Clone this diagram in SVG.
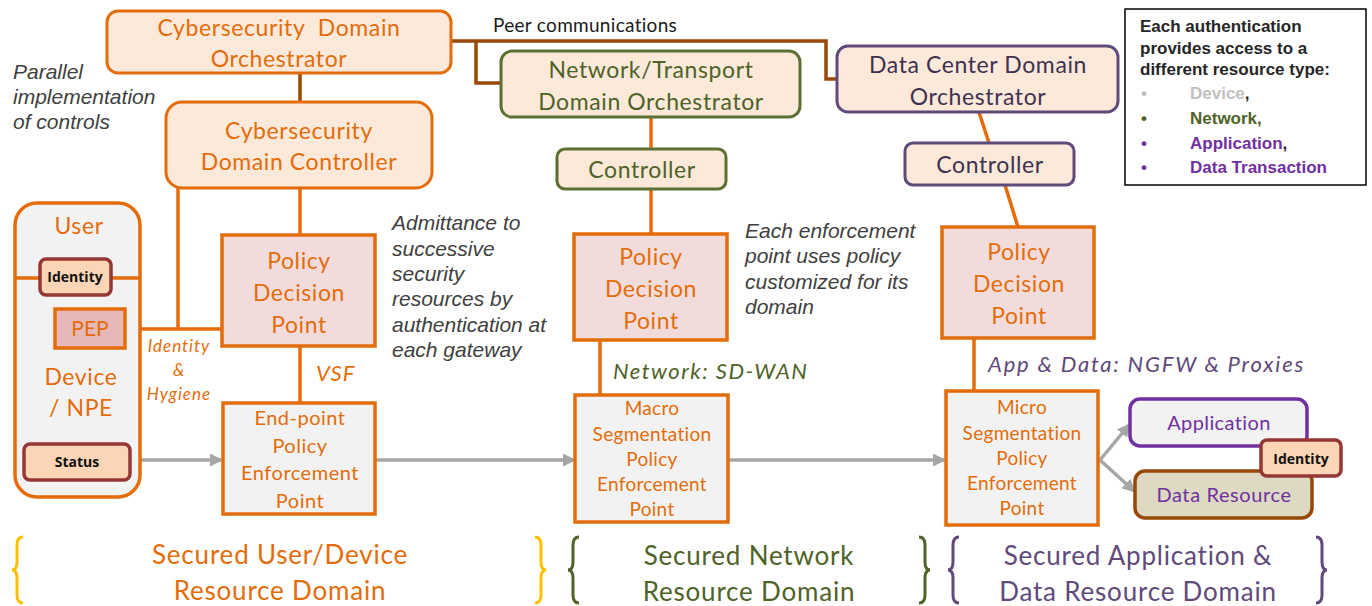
<svg xmlns="http://www.w3.org/2000/svg" width="1372" height="606" viewBox="0 0 1372 606">
<defs>
<marker id="ah" markerWidth="13" markerHeight="13" refX="11" refY="6.5" orient="auto" markerUnits="userSpaceOnUse" viewBox="0 0 13 13">
<path d="M0,0 L13,6.5 L0,13 Z" fill="#a6a6a6"/>
</marker>
<style>
.c{font-family:Lato,"Open Sans","Liberation Sans",sans-serif;text-anchor:middle}
.m{font-size:23px;letter-spacing:0.6px}
.s{font-size:19px;letter-spacing:0.3px}
.or{fill:#e46c0a}
.gr{fill:#4f6228}
.pu{fill:#403151}
.peach{fill:#fde9d9;stroke-width:3}
.pdp{fill:#f2dcdb;stroke:#e46c0a;stroke-width:3.5}
.pep{fill:#f2f2f2;stroke:#e46c0a;stroke-width:3.5}
.it{font-family:"Liberation Sans",Arial,sans-serif;font-style:italic;font-size:21px;fill:#404040}
.li{font-family:Lato,"Open Sans",sans-serif;font-style:italic}
.tag{fill:#fbd5b5;stroke:#953735;stroke-width:3.5}
.tagt{font-family:"Open Sans","Liberation Sans",sans-serif;font-weight:bold;font-size:14px;fill:#111;text-anchor:middle}
.lg{font-family:"Liberation Sans",Arial,sans-serif;font-weight:bold;font-size:17px}
.conn{fill:none;stroke-width:3.5}
.gray{stroke:#a6a6a6;stroke-width:3.5;fill:none}
.brace{fill:none;stroke-width:3}
.dom{font-size:26px;letter-spacing:0.8px}
</style>
</defs>
<rect width="1372" height="606" fill="#ffffff"/>

<!-- connectors -->
<g id="connectors">
<path class="conn" stroke="#984807" d="M300,73 L300,102"/>
<path class="conn" stroke="#984807" d="M451,41 L826,41 L826,79 L837,79"/>
<path class="conn" stroke="#984807" d="M476,41 L476,83 L501,83"/>
<path class="conn" stroke="#e46c0a" d="M651,117 L651,149"/>
<path class="conn" stroke="#e46c0a" d="M651,189 L651,234"/>
<path class="conn" stroke="#e46c0a" d="M979,112 L989,143"/>
<path class="conn" stroke="#e46c0a" d="M1005,185 L1018,227"/>
<path class="conn" stroke="#e46c0a" d="M300,188 L300,235"/>
<path class="conn" stroke="#e46c0a" d="M178,188 L178,329"/>
<path class="conn" stroke="#e46c0a" d="M125,329 L222,329"/>
<path class="conn" stroke="#e46c0a" d="M300,347 L300,403"/>
<path class="conn" stroke="#e46c0a" d="M600,340 L600,395"/>
<path class="conn" stroke="#e46c0a" d="M974,338 L974,391"/>
<path class="gray" d="M141,460 L221,460" marker-end="url(#ah)"/>
<path class="gray" d="M376,460 L574,460" marker-end="url(#ah)"/>
<path class="gray" d="M729,460 L944,460" marker-end="url(#ah)"/>
<path class="gray" d="M1100,460 L1129,425" marker-end="url(#ah)"/>
<path class="gray" d="M1100,460 L1134,491" marker-end="url(#ah)"/>
</g>

<!-- Cybersecurity Domain Orchestrator -->
<g id="cyber-orch">
<rect class="peach" x="107" y="11" width="344" height="62" rx="11" stroke="#e46c0a"/>
<text class="c m or" x="279" y="36" xml:space="preserve">Cybersecurity  Domain</text>
<text class="c m or" x="279" y="67">Orchestrator</text>
</g>

<!-- Cybersecurity Domain Controller -->
<g id="cyber-ctrl">
<rect class="peach" x="166" y="102" width="266" height="86" rx="16" stroke="#e46c0a"/>
<text class="c m or" x="299" y="139">Cybersecurity</text>
<text class="c m or" x="299" y="170">Domain Controller</text>
</g>

<!-- Peer communications label -->
<text x="493" y="32" font-family="Lato,'Open Sans',sans-serif" font-size="19" letter-spacing="0.3" fill="#1a1a1a">Peer communications</text>

<!-- Network orchestrator -->
<g id="net-orch">
<rect class="peach" x="501" y="51" width="299" height="66" rx="11" stroke="#5b7032"/>
<text class="c m gr" x="651" y="78">Network/Transport</text>
<text class="c m gr" x="651" y="110">Domain Orchestrator</text>
</g>

<!-- Network controller -->
<g id="net-ctrl">
<rect class="peach" x="557" y="149" width="169" height="40" rx="8" stroke="#5b7032"/>
<text class="c m gr" x="642" y="178">Controller</text>
</g>

<!-- Data center orchestrator -->
<g id="dc-orch">
<rect class="peach" x="837" y="46" width="281" height="66" rx="11" stroke="#604a7b"/>
<text class="c m pu" x="978" y="73">Data Center Domain</text>
<text class="c m pu" x="978" y="105">Orchestrator</text>
</g>

<!-- Data center controller -->
<g id="dc-ctrl">
<rect class="peach" x="905" y="143" width="169" height="42" rx="8" stroke="#604a7b"/>
<text class="c m pu" x="990" y="173">Controller</text>
</g>

<!-- Legend -->
<g id="legend">
<rect x="1125" y="9" width="241" height="176" fill="#ffffff" stroke="#000" stroke-width="1.5"/>
<text class="lg" x="1140" y="32" fill="#262626">Each authentication</text>
<text class="lg" x="1140" y="54" fill="#262626">provides access to a</text>
<text class="lg" x="1140" y="75" fill="#262626">different resource type:</text>
<text class="lg" x="1141" y="99" font-size="11" fill="#bfbfbf">•</text>
<text class="lg" x="1190" y="99"><tspan fill="#bfbfbf">Device</tspan><tspan fill="#262626">,</tspan></text>
<text class="lg" x="1141" y="124" font-size="11" fill="#4f6228">•</text>
<text class="lg" x="1190" y="124" fill="#4f6228">Network,</text>
<text class="lg" x="1141" y="149" font-size="11" fill="#7030a0">•</text>
<text class="lg" x="1190" y="149"><tspan fill="#7030a0">Application</tspan><tspan fill="#262626">,</tspan></text>
<text class="lg" x="1141" y="173" font-size="11" fill="#7030a0">•</text>
<text class="lg" x="1190" y="173" fill="#7030a0">Data Transaction</text>
</g>

<!-- Annotations -->
<text class="it"><tspan x="13" y="79">Parallel</tspan><tspan x="13" y="104">implementation</tspan><tspan x="13" y="129">of controls</tspan></text>
<text class="it"><tspan x="392" y="230">Admittance to</tspan><tspan x="392" y="256">successive</tspan><tspan x="392" y="281">security</tspan><tspan x="392" y="306">resources by</tspan><tspan x="392" y="332">authentication at</tspan><tspan x="392" y="357">each gateway</tspan></text>
<text class="it"><tspan x="745" y="238">Each enforcement</tspan><tspan x="745" y="263">point uses policy</tspan><tspan x="745" y="289">customized for its</tspan><tspan x="745" y="314">domain</tspan></text>

<!-- User / Device -->
<g id="user-device">
<rect x="15" y="203" width="125" height="294" rx="22" fill="#f2f2f2" stroke="#e46c0a" stroke-width="3.5"/>
<line x1="15" y1="278" x2="140" y2="278" stroke="#e46c0a" stroke-width="3.5"/>
<text class="c m or" x="79" y="234">User</text>
<text class="c m or" x="81" y="385">Device</text>
<text class="c m or" x="81" y="416">/ NPE</text>
</g>
<g id="identity-user">
<rect class="tag" x="40" y="259" width="71" height="36" rx="6"/>
<text class="tagt" x="75" y="282">Identity</text>
</g>
<g id="pep">
<rect x="55" y="309" width="70" height="39" fill="#e6b9b8" stroke="#e46c0a" stroke-width="3.5"/>
<text class="c or" font-size="21" x="90" y="336">PEP</text>
</g>
<g id="status">
<rect class="tag" x="24" y="444" width="106" height="36" rx="6"/>
<text class="tagt" x="77" y="467">Status</text>
</g>
<text class="li" font-size="17" letter-spacing="1" fill="#e46c0a" text-anchor="middle"><tspan x="179" y="352">Identity</tspan><tspan x="179" y="376">&amp;</tspan><tspan x="179" y="400">Hygiene</tspan></text>

<!-- PDP 1 -->
<g id="pdp-user">
<rect class="pdp" x="222" y="235" width="153" height="111"/>
<text class="c m or" x="299" y="269">Policy</text>
<text class="c m or" x="299" y="301">Decision</text>
<text class="c m or" x="299" y="333">Point</text>
</g>
<text class="li" x="316" y="381" font-size="22" letter-spacing="1" fill="#e46c0a">VSF</text>

<!-- End-point PEP -->
<g id="pep-endpoint">
<rect class="pep" x="223" y="403" width="152" height="111"/>
<text class="c or" font-size="20" letter-spacing="0.5" x="300" y="425">End-point</text>
<text class="c or" font-size="20" letter-spacing="0.5" x="300" y="453">Policy</text>
<text class="c or" font-size="20" letter-spacing="0.5" x="300" y="480">Enforcement</text>
<text class="c or" font-size="20" letter-spacing="0.5" x="300" y="508">Point</text>
</g>

<!-- PDP network -->
<g id="pdp-net">
<rect class="pdp" x="574" y="234" width="153" height="106"/>
<text class="c m or" x="651" y="265">Policy</text>
<text class="c m or" x="651" y="297">Decision</text>
<text class="c m or" x="651" y="329">Point</text>
</g>
<text class="li" x="613" y="379" font-size="22" letter-spacing="1.5" fill="#4f6228">Network: SD-WAN</text>

<!-- Macro PEP -->
<g id="pep-macro">
<rect class="pep" x="575" y="395" width="153" height="127"/>
<text class="c s or" x="652" y="415">Macro</text>
<text class="c s or" x="652" y="441">Segmentation</text>
<text class="c s or" x="652" y="466">Policy</text>
<text class="c s or" x="652" y="491">Enforcement</text>
<text class="c s or" x="652" y="516">Point</text>
</g>

<!-- PDP data -->
<g id="pdp-data">
<rect class="pdp" x="942" y="227" width="152" height="111"/>
<text class="c m or" x="1019" y="260">Policy</text>
<text class="c m or" x="1019" y="292">Decision</text>
<text class="c m or" x="1019" y="324">Point</text>
</g>
<text class="li" x="988" y="372" font-size="22" letter-spacing="1.8" fill="#5f497a">App &amp; Data: NGFW &amp; Proxies</text>

<!-- Micro PEP -->
<g id="pep-micro">
<rect class="pep" x="946" y="391" width="152" height="134"/>
<text class="c s or" x="1022" y="414">Micro</text>
<text class="c s or" x="1022" y="440">Segmentation</text>
<text class="c s or" x="1022" y="465">Policy</text>
<text class="c s or" x="1022" y="490">Enforcement</text>
<text class="c s or" x="1022" y="515">Point</text>
</g>

<!-- Application -->
<g id="application">
<rect x="1130" y="399" width="177" height="47" rx="10" fill="#f2f2f2" stroke="#7030a0" stroke-width="3.5"/>
<text class="c" font-size="20" letter-spacing="0.4" fill="#7030a0" x="1219" y="430">Application</text>
</g>

<!-- Data Resource -->
<g id="data-resource">
<rect x="1135" y="471" width="177" height="47" rx="10" fill="#ddd9c3" stroke="#974806" stroke-width="3.5"/>
<text class="c" font-size="20" letter-spacing="0.6" fill="#7030a0" x="1224" y="502">Data Resource</text>
</g>

<!-- Identity right -->
<g id="identity-data">
<rect class="tag" x="1261" y="440" width="80" height="36" rx="6"/>
<text class="tagt" x="1301" y="464">Identity</text>
</g>

<!-- Domain braces and labels -->
<g id="domain-user">
<path class="brace" stroke="#ffc000" d="M23,537 Q17,537 17,545 L17,562 Q17,570 12,570 Q17,570 17,578 L17,595 Q17,603 23,603"/>
<path class="brace" stroke="#ffc000" d="M535,537 Q541,537 541,545 L541,562 Q541,570 546,570 Q541,570 541,578 L541,595 Q541,603 535,603"/>
<text class="c dom or" x="280" y="564">Secured User/Device</text>
<text class="c dom or" x="280" y="600">Resource Domain</text>
</g>
<g id="domain-network">
<path class="brace" stroke="#4f6228" d="M579,537 Q573,537 573,545 L573,562 Q573,570 568,570 Q573,570 573,578 L573,595 Q573,603 579,603"/>
<path class="brace" stroke="#4f6228" d="M919,537 Q925,537 925,545 L925,562 Q925,570 930,570 Q925,570 925,578 L925,595 Q925,603 919,603"/>
<text class="c dom gr" x="749" y="565">Secured Network</text>
<text class="c dom gr" x="749" y="601">Resource Domain</text>
</g>
<g id="domain-appdata">
<path class="brace" stroke="#604a7b" d="M959,537 Q953,537 953,545 L953,562 Q953,570 948,570 Q953,570 953,578 L953,595 Q953,603 959,603"/>
<path class="brace" stroke="#604a7b" d="M1316,537 Q1322,537 1322,545 L1322,562 Q1322,570 1327,570 Q1322,570 1322,578 L1322,595 Q1322,603 1316,603"/>
<text class="c dom" fill="#604a7b" x="1138" y="565">Secured Application &amp;</text>
<text class="c dom" fill="#604a7b" x="1138" y="601">Data Resource Domain</text>
</g>
</svg>
